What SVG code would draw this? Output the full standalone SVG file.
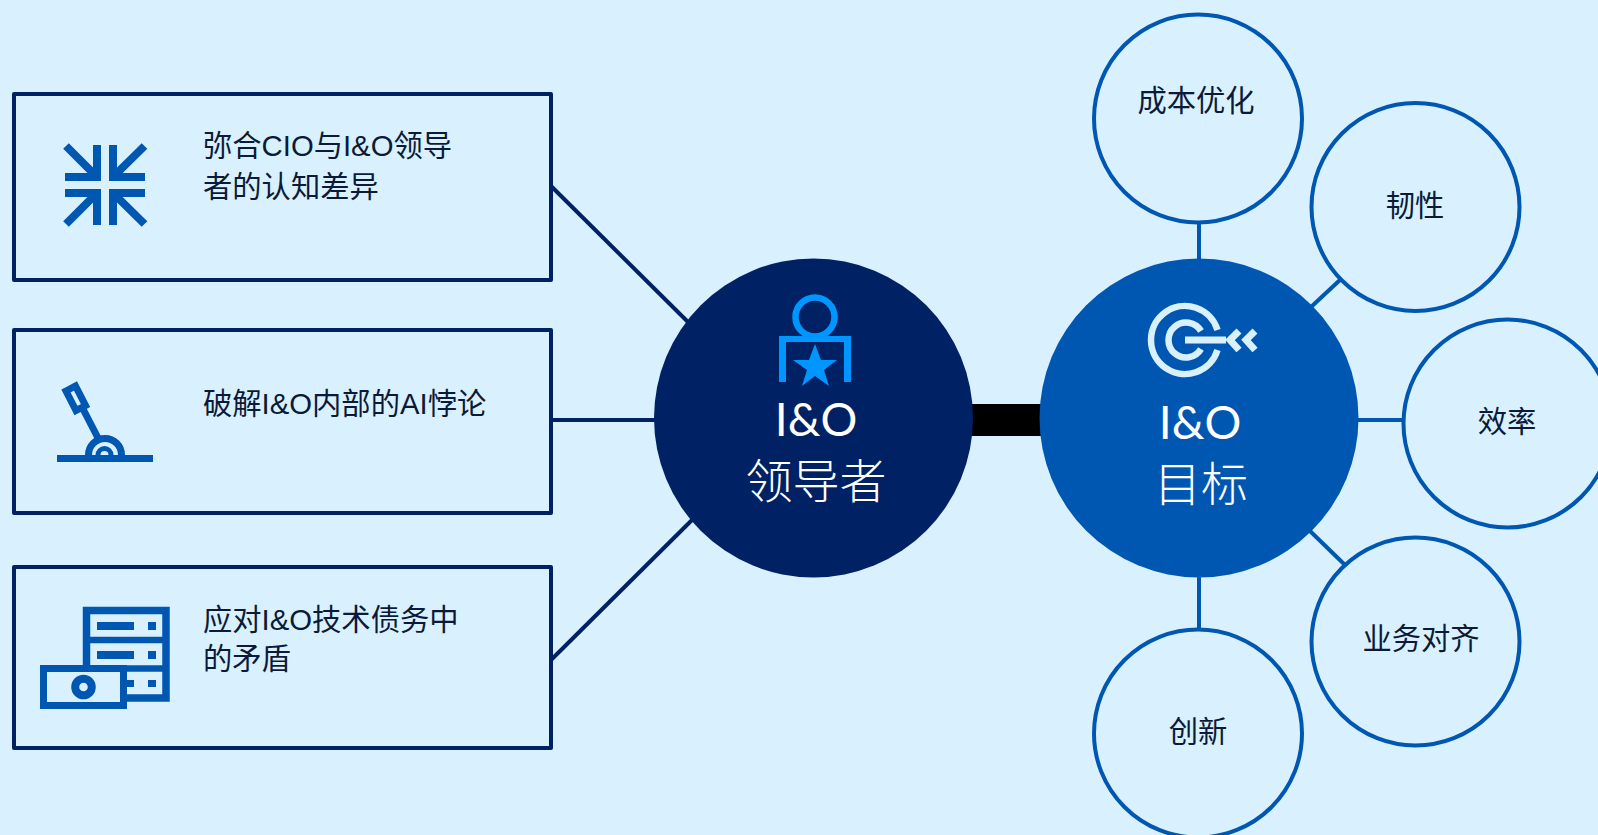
<svg xmlns="http://www.w3.org/2000/svg" width="1598" height="835" viewBox="0 0 1598 835">
<style>
.box{fill:none;stroke:#002164;stroke-width:4;stroke-linejoin:round}
.c{stroke:#002164;stroke-width:4;fill:none}
.b{stroke:#0057b2;stroke-width:4;fill:none}
.sc{fill:#d9f1ff;stroke:#0057b2;stroke-width:4}
.t{font-family:"Liberation Sans","Noto Sans CJK SC",sans-serif;font-size:29.3px;fill:#0b1a38}
.s{font-family:"Noto Sans CJK SC","Liberation Sans",sans-serif;font-size:29.3px;fill:#0b1a38;text-anchor:middle}
.w{font-family:"Lato",sans-serif;fill:#fff;text-anchor:middle;font-size:46px}
.z{font-family:"Noto Sans CJK SC",sans-serif;font-weight:300;fill:#fff;text-anchor:middle;font-size:47px}
.ic{fill:#0057b2}
.is{fill:none;stroke:#0057b2}
</style>
<rect width="1598" height="835" fill="#d9f1ff"/>
<g id="connectors">
<line class="c" x1="551" y1="186" x2="690" y2="324"/>
<line class="c" x1="551" y1="420" x2="660" y2="420"/>
<line class="c" x1="551" y1="660" x2="694" y2="518"/>
<rect x="972" y="404" width="71" height="32" fill="#000"/>
<line class="b" x1="1199" y1="220" x2="1199" y2="262"/>
<line class="b" x1="1311" y1="307" x2="1341" y2="279"/>
<line class="b" x1="1357" y1="420" x2="1405" y2="420"/>
<line class="b" x1="1310" y1="531" x2="1345" y2="565"/>
<line class="b" x1="1199" y1="575" x2="1199" y2="632"/>
</g>
<g id="box1">
<rect class="box" x="14" y="94" width="537" height="186"/>
<g id="icon1">
<path class="ic" d="M93 145h8v36h-8zM109 145h8v36h-8zM65 173h36v8H65zM109 173h36v8h-36zM65 189h36v8H65zM109 189h36v8h-36zM93 189h8v36h-8zM109 189h8v36h-8z"/>
<path class="is" stroke-width="8" d="M66 146L98 178M144.500 146L112 178M66 224L98 192M144.500 224L112 192"/>
</g>
<text class="t" x="203" y="156">弥合CIO与I&amp;O领导</text>
<text class="t" x="203" y="197">者的认知差异</text>
</g>
<g id="box2">
<rect class="box" x="14" y="330" width="537" height="183"/>
<g id="icon2">
<path class="ic" d="M57 455h96v7H57z"/>
<path class="is" stroke-width="7" d="M88.500 455a16.500 16.500 0 0 1 33 0"/>
<path class="is" stroke-width="5" d="M98 455a6.500 6.500 0 0 1 13 0"/>
<path class="is" stroke-width="7" d="M82 407L98 438"/>
<path class="is" stroke-width="7" d="M66 391L75.500 386L85.500 405.500L76 410.500z"/>
</g>
<text class="t" x="203" y="414">破解I&amp;O内部的AI悖论</text>
</g>
<g id="box3">
<rect class="box" x="14" y="567" width="537" height="181"/>
<g id="icon3">
<path class="is" stroke-width="7.500" d="M86.500 668V610.500H166V698H124"/>
<path class="is" stroke-width="6.500" d="M87 640H166M124 668.500H166"/>
<path class="ic" d="M97 622h37v8H97zM148 622h8v8h-8zM97 651h37v8H97zM148 651h8v8h-8zM127 680h7v7h-7zM148 680h8v7h-8z"/>
<rect class="is" stroke-width="7" x="43.500" y="668.500" width="80" height="37"/>
<circle class="is" stroke-width="8" cx="83.500" cy="687" r="8.300"/>
</g>
<text class="t" x="203" y="630">应对I&amp;O技术债务中</text>
<text class="t" x="203" y="669">的矛盾</text>
</g>
<g id="leader">
<circle cx="813.500" cy="418" r="159.500" fill="#002164"/>
<g id="icon-leader">
<circle cx="815" cy="317" r="19.500" fill="none" stroke="#0096ff" stroke-width="6.500"/>
<path fill="#0096ff" d="M779 336h72v46h-7v-40h-58v40h-7z"/>
<path fill="#0096ff" d="M815 344L821 360H837L824 370L829 386L815 376L802 386L807 370L793 360H809z"/>
</g>
<text class="w" x="816" y="436">I&amp;O</text>
<text class="z" x="816" y="498">领导者</text>
</g>
<g id="goal">
<circle cx="1199" cy="418" r="159.500" fill="#0057b2"/>
<g id="icon-goal" fill="none" stroke="#d9f1ff" stroke-width="6.500">
<path d="M1217.500 330A34 34 0 1 0 1217.500 350"/>
<path d="M1201 331A17.500 17.500 0 1 0 1201 349"/>
<path d="M1185 340H1226" stroke-width="7"/>
<path stroke-width="7" d="M1239 331L1230 340L1239 350M1255 331L1246 340L1255 350"/>
</g>
<text class="w" x="1200" y="439">I&amp;O</text>
<text class="z" x="1201" y="501">目标</text>
</g>
<g id="n1"><circle class="sc" cx="1198" cy="118.500" r="104"/><text class="s" x="1196" y="111">成本优化</text></g>
<g id="n2"><circle class="sc" cx="1415.500" cy="207" r="104"/><text class="s" x="1415" y="216">韧性</text></g>
<g id="n3"><circle class="sc" cx="1507.500" cy="423.500" r="104"/><text class="s" x="1507" y="432">效率</text></g>
<g id="n4"><circle class="sc" cx="1415.500" cy="641.500" r="104"/><text class="s" x="1421" y="649">业务对齐</text></g>
<g id="n5"><circle class="sc" cx="1198" cy="733.500" r="104"/><text class="s" x="1198" y="742">创新</text></g>
</svg>
